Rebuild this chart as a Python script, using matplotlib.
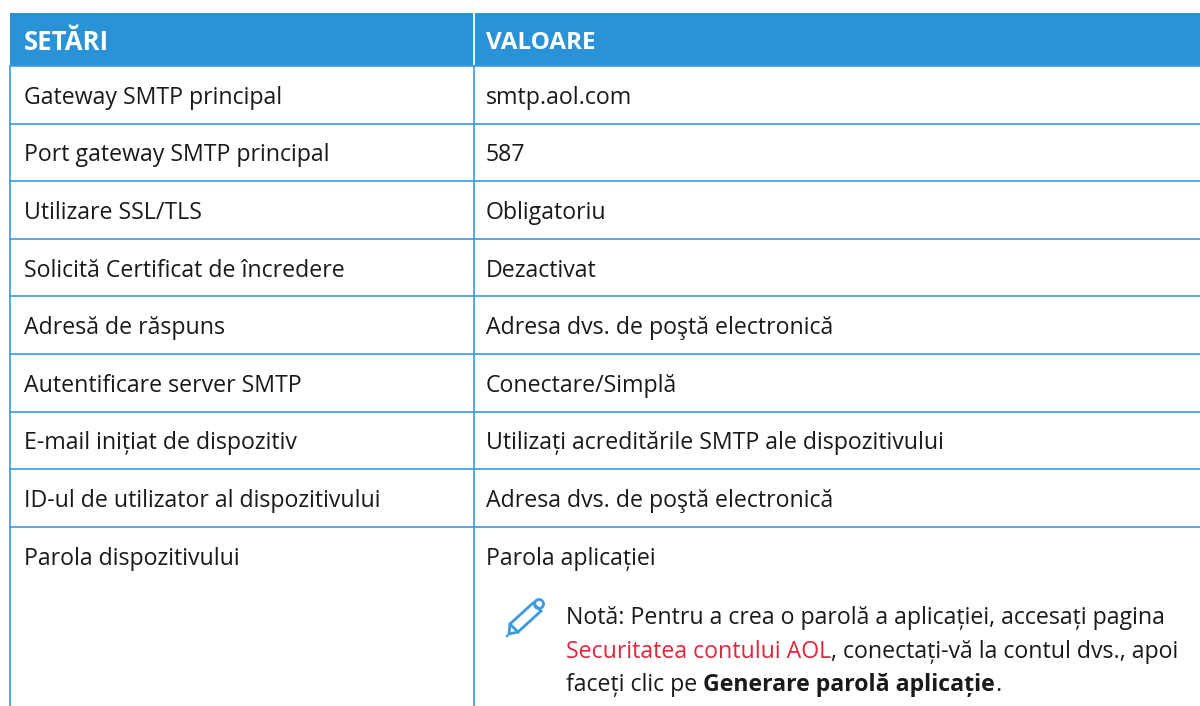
import matplotlib
matplotlib.use("Agg")
import matplotlib.pyplot as plt
from matplotlib.patches import Polygon, Rectangle, Circle

# table content
headers = ["SETĂRI", "VALOARE"]
settings = [
    "Gateway SMTP principal",
    "Port gateway SMTP principal",
    "Utilizare SSL/TLS",
    "Solicită Certificat de încredere",
    "Adresă de răspuns",
    "Autentificare server SMTP",
    "E-mail inițiat de dispozitiv",
    "ID-ul de utilizator al dispozitivului",
    "Parola dispozitivului",
]
values = [
    "smtp.aol.com",
    "587",
    "Obligatoriu",
    "Dezactivat",
    "Adresa dvs. de poştă electronică",
    "Conectare/Simplă",
    "Utilizați acreditările SMTP ale dispozitivului",
    "Adresa dvs. de poştă electronică",
    "Parola aplicației",
]
note_lines = [
    [("Notă: Pentru a crea o parolă a aplicației, accesați pagina", "normal", "#1a1a1a")],
    [("Securitatea contului AOL", "normal", "#e0263c"),
     (", conectați-vă la contul dvs., apoi", "normal", "#1a1a1a")],
    [("faceți clic pe ", "normal", "#1a1a1a"),
     ("Generare parolă aplicație", "bold", "#1a1a1a"),
     (".", "normal", "#1a1a1a")],
]

BLUE = "#2a92d6"
LINE = "#3b9ae0"
FONT = "Open Sans"
SIZE = 16.7

fig = plt.figure(figsize=(12, 7.06), dpi=100)
ax = fig.add_axes([0, 0, 1, 1])
ax.set_xlim(0, 1200)
ax.set_ylim(706, 0)
ax.axis("off")

left, mid, right = 10, 474, 1200
top, head_bottom = 13, 66
row_h = 57.6

# header band
ax.add_patch(Rectangle((left, top), right - left, head_bottom - top, color=BLUE, lw=0))
ax.plot([mid, mid], [top, head_bottom], color="white", lw=1.3)
ax.text(left + 14, 43, headers[0], color="white", fontsize=18.5, fontweight="bold",
        family=FONT, va="center")
ax.text(mid + 12, 43, headers[1], color="white", fontsize=17.5, fontweight="bold",
        family=FONT, va="center")

# rows
y = head_bottom
for s, v in zip(settings, values):
    ax.text(left + 14, y + row_h / 2 + 3, s, fontsize=SIZE, family=FONT, color="#1a1a1a", va="center")
    ax.text(mid + 12, y + row_h / 2 + 3, v, fontsize=SIZE, family=FONT, color="#1a1a1a", va="center")
    ax.plot([left, right], [y, y], color=LINE, lw=1.2)
    y += row_h
for x in (left, mid):
    ax.plot([x, x], [head_bottom, 706], color=LINE, lw=1.2)

# note with mixed runs
fig.canvas.draw()
renderer = fig.canvas.get_renderer()
for line, ly in zip(note_lines, [618, 652, 685]):
    x = 566
    for txt, weight, col in line:
        t = ax.text(x, ly, txt, fontsize=SIZE, family=FONT, fontweight=weight, color=col, va="center")
        x = ax.transData.inverted().transform(t.get_window_extent(renderer).corners()[2])[0]

# pencil icon
ax.add_patch(Polygon([(510, 624), (533, 603), (541, 611), (518, 632), (509, 634)],
                     closed=True, fill=False, ec=LINE, lw=2))
ax.plot([510, 518], [624, 632], color=LINE, lw=2)
ax.add_patch(Circle((539, 604), 4.5, fill=False, ec=LINE, lw=2))
ax.add_patch(Circle((507, 636), 1.3, color=LINE, lw=0))

fig.savefig("out.png", dpi=100)
